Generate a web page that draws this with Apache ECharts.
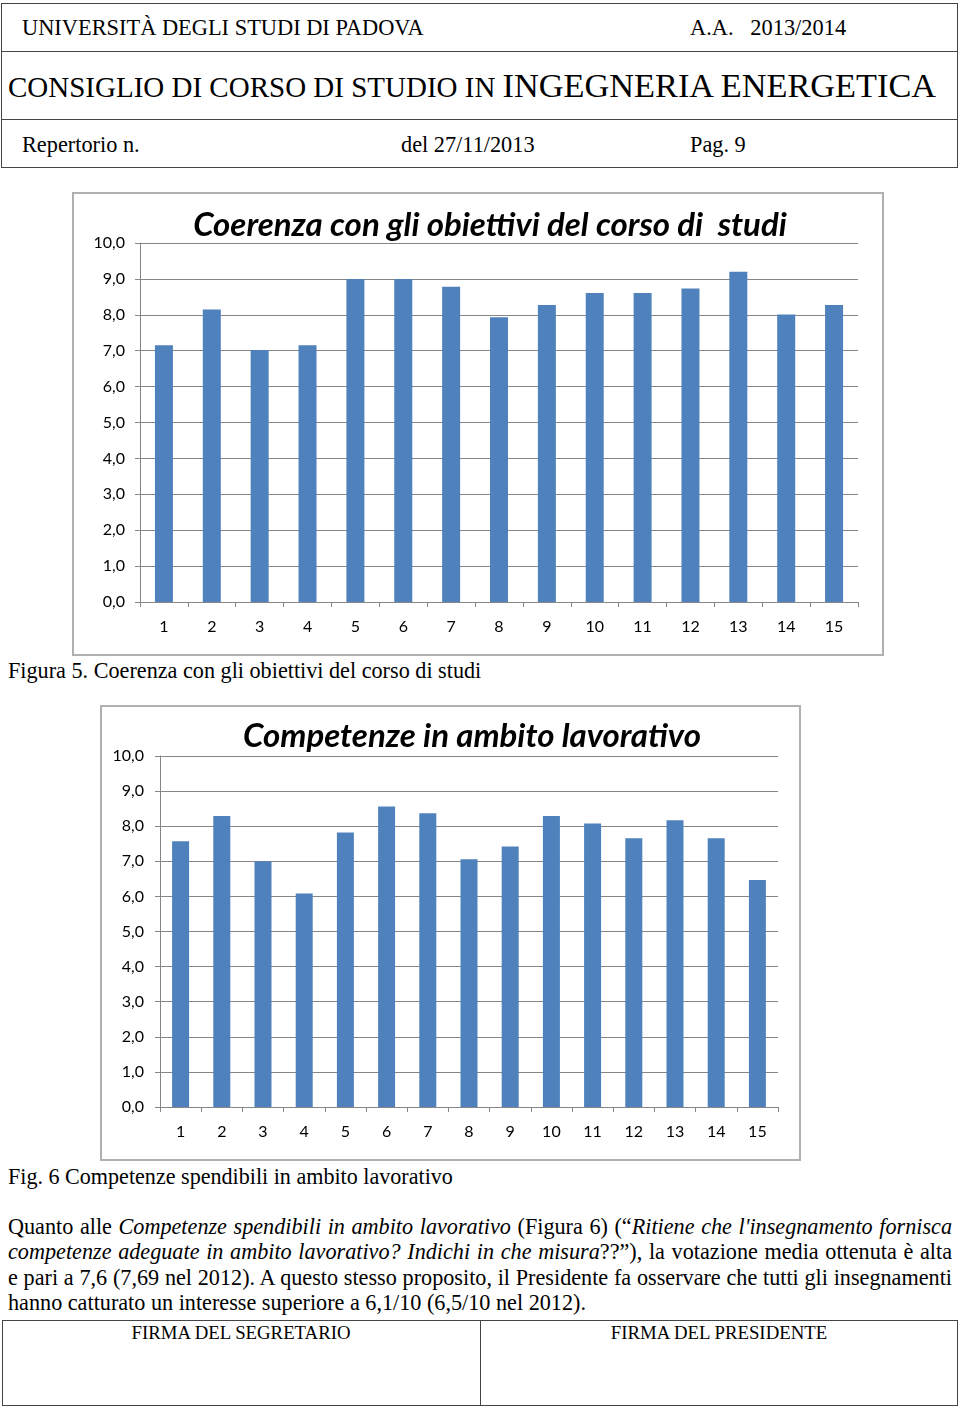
<!DOCTYPE html>
<html>
<head>
<meta charset="utf-8">
<script src="https://cdn.jsdelivr.net/npm/echarts@6/dist/echarts.min.js"></script>
<style>
  html, body { margin:0; padding:0; background:#fff; }
  body { width:960px; height:1408px; position:relative; overflow:hidden; font-family:"Liberation Serif","Times New Roman",serif; color:#000; }
  .abs { position:absolute; white-space:nowrap; }
  .hline { position:absolute; height:0; border-top:1.5px solid #444; }
  .vline { position:absolute; width:0; border-left:1.5px solid #444; }
  .frame { position:absolute; border:2px solid #b0b0b0; box-sizing:border-box; pointer-events:none; }
  .chart { position:absolute; }
  .pline { position:absolute; left:8px; width:944px; font-size:22.2px; text-align:justify; text-align-last:justify; white-space:nowrap; }
  .pline.last { text-align-last:left; }
</style>
</head>
<body>
<!-- header table -->
<div class="hline" style="left:1px;width:957px;top:3px"></div>
<div class="hline" style="left:1px;width:957px;top:51px"></div>
<div class="hline" style="left:1px;width:957px;top:119px"></div>
<div class="hline" style="left:1px;width:957px;top:167px"></div>
<div class="vline" style="left:1px;top:3px;height:165px"></div>
<div class="vline" style="left:957px;top:3px;height:165px"></div>
<div class="abs" style="left:22px;top:15px;font-size:22.4px;">UNIVERSITÀ DEGLI STUDI DI PADOVA</div>
<div class="abs" style="left:690px;top:15px;font-size:22.4px;">A.A.&nbsp;&nbsp; 2013/2014</div>
<div class="abs" style="left:8px;top:66px;"><span style="font-size:29px;">CONSIGLIO DI CORSO DI STUDIO IN </span><span style="font-size:34.3px;">INGEGNERIA ENERGETICA</span></div>
<div class="abs" style="left:22px;top:132px;font-size:22.3px;">Repertorio n.</div>
<div class="abs" style="left:401px;top:132px;font-size:22.3px;">del 27/11/2013</div>
<div class="abs" style="left:690px;top:132px;font-size:22.3px;">Pag. 9</div>

<!-- chart 1 -->
<div id="c1" class="chart" style="left:73px;top:193px;width:810px;height:462px;"></div>
<div class="frame" style="left:72px;top:192px;width:812px;height:464px;"></div>
<div class="abs" style="left:8px;top:658px;font-size:22.2px;">Figura 5. Coerenza con gli obiettivi del corso di studi</div>

<!-- chart 2 -->
<div id="c2" class="chart" style="left:101px;top:706px;width:699px;height:454px;"></div>
<div class="frame" style="left:100px;top:705px;width:701px;height:456px;"></div>
<div class="abs" style="left:8px;top:1164px;font-size:22.1px;">Fig. 6 Competenze spendibili in ambito lavorativo</div>

<!-- paragraph -->
<div class="pline" style="top:1214px;">Quanto alle <i>Competenze spendibili in ambito lavorativo</i> (Figura 6) (“<i>Ritiene che l'insegnamento fornisca</i></div>
<div class="pline" style="top:1239px;"><i>competenze adeguate in ambito lavorativo? Indichi in che misura</i>??”), la votazione media ottenuta è alta</div>
<div class="pline" style="top:1265px;">e pari a 7,6 (7,69 nel 2012). A questo stesso proposito, il Presidente fa osservare che tutti gli insegnamenti</div>
<div class="pline last" style="top:1290px;">hanno catturato un interesse superiore a 6,1/10 (6,5/10 nel 2012).</div>

<!-- footer table -->
<div class="hline" style="left:2px;width:956px;top:1320px"></div>
<div class="hline" style="left:2px;width:956px;top:1405px"></div>
<div class="vline" style="left:2px;top:1320px;height:86px"></div>
<div class="vline" style="left:480px;top:1320px;height:86px"></div>
<div class="vline" style="left:957px;top:1320px;height:86px"></div>
<div class="abs" style="left:2px;width:478px;text-align:center;top:1322px;font-size:18.8px;">FIRMA DEL SEGRETARIO</div>
<div class="abs" style="left:481px;width:476px;text-align:center;top:1322px;font-size:18.8px;">FIRMA DEL PRESIDENTE</div>

<script>
// ---- data ----
var categories = ['1','2','3','4','5','6','7','8','9','10','11','12','13','14','15'];
var coerenzaValues = [7.15, 8.15, 7.02, 7.15, 9.0, 9.0, 8.78, 7.93, 8.27, 8.61, 8.61, 8.73, 9.2, 8.01, 8.27];
var competenzeValues = [7.57, 8.29, 7.0, 6.08, 7.82, 8.56, 8.37, 7.06, 7.42, 8.29, 8.08, 7.66, 8.17, 7.66, 6.47];
var title1 = 'Coerenza con gli obiettivi del corso di  studi';
var title2 = 'Competenze in ambito lavorativo';
var yMin = 0, yMax = 10, yStep = 1;

var GRID = '#868686';
var BAR = '#4f81bd';
var AXFONT = 'Lato, "Open Sans", sans-serif';

function makeOption(title, values, cfg) {
  return {
    animation: false,
    title: {
      text: title,
      left: cfg.titleX, top: cfg.titleY, textAlign: 'center',
      textStyle: { fontFamily: AXFONT, fontSize: cfg.titleSize, fontWeight: 'bold', fontStyle: 'italic', color: '#000' }
    },
    grid: { left: cfg.left, right: cfg.right, top: cfg.top, bottom: cfg.bottom, containLabel: false },
    xAxis: {
      type: 'category', data: categories, boundaryGap: true,
      axisLine: { lineStyle: { color: GRID, width: 1 } },
      axisTick: { show: true, length: 5, alignWithLabel: false, lineStyle: { color: GRID } },
      axisLabel: { color: '#000', fontFamily: AXFONT, fontSize: 16, margin: 17 }
    },
    yAxis: {
      type: 'value', min: yMin, max: yMax, interval: yStep,
      axisLine: { show: true, lineStyle: { color: GRID, width: 1 } },
      axisTick: { show: true, length: 5, lineStyle: { color: GRID } },
      splitLine: { show: true, lineStyle: { color: GRID, width: 1 } },
      axisLabel: { color: '#000', fontFamily: AXFONT, fontSize: 16, margin: cfg.ylabMargin,
        formatter: function (v) { return v.toFixed(1).replace('.', ','); } }
    },
    series: [{ type: 'bar', data: values, barWidth: cfg.barWidth, itemStyle: { color: BAR } }]
  };
}

var c1 = echarts.init(document.getElementById('c1'), null, { renderer: 'canvas' });
c1.setOption(makeOption(title1, coerenzaValues, { left: 67, right: 25, top: 50, bottom: 53, barWidth: 18, titleX: 412, titleY: 11, titleSize: 33, ylabMargin: 15 }));
var c2 = echarts.init(document.getElementById('c2'), null, { renderer: 'canvas' });
c2.setOption(makeOption(title2, competenzeValues, { left: 59, right: 22, top: 50, bottom: 53, barWidth: 17, titleX: 366, titleY: 9, titleSize: 33, ylabMargin: 16 }));
</script>
</body>
</html>
